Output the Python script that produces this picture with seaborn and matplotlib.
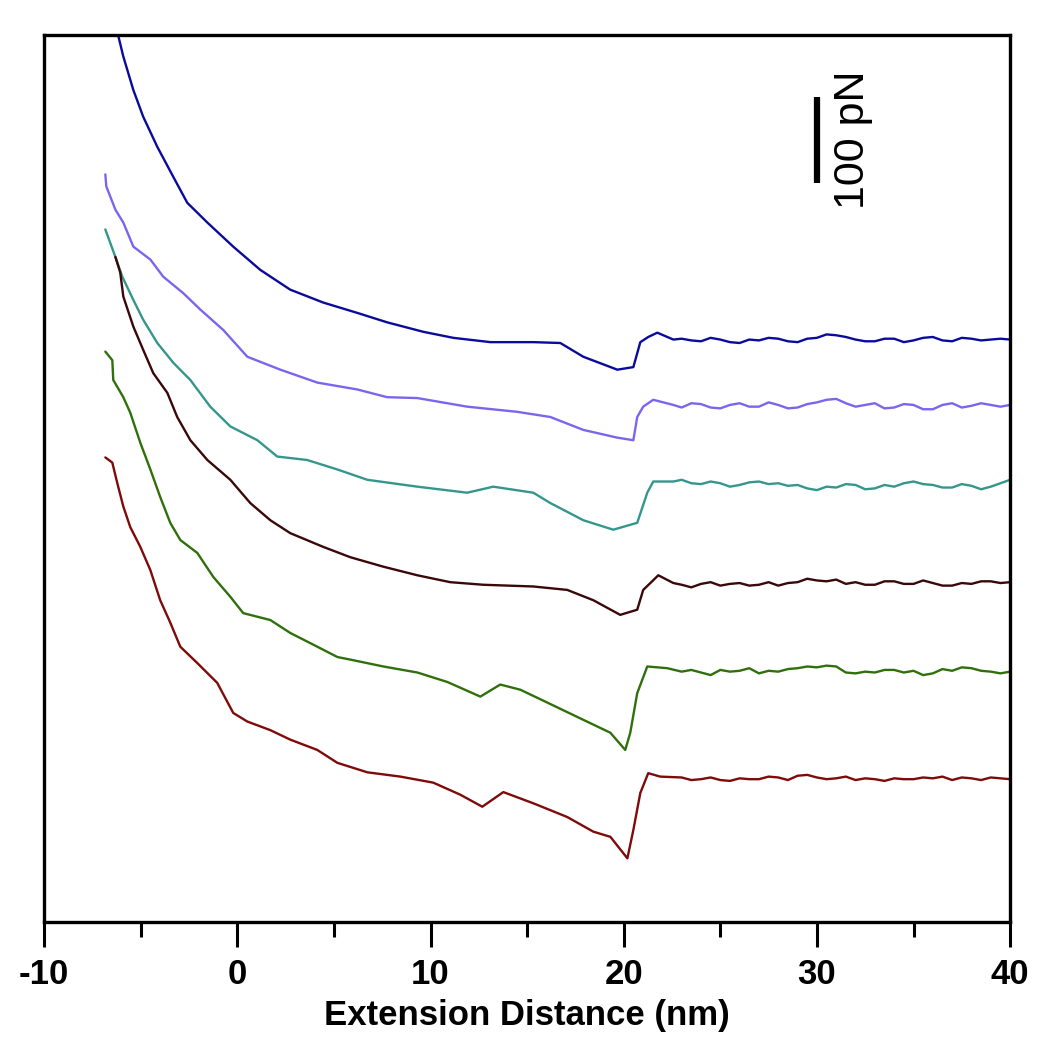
import matplotlib
matplotlib.use("Agg")
from matplotlib import pyplot as plt
from matplotlib.ticker import MultipleLocator
import pandas as pd
import seaborn as sns

# six force-extension traces, force in pN (offset for display)
# approach / rupture part of each trace
x_blue = [-6.16, -5.90, -5.38, -4.87, -4.14, -3.31, -2.59, -1.55, -0.21, 1.19, 2.74, 4.45, 6.21,
          7.76, 9.63, 11.18, 13.10, 15.32, 16.72, 17.91, 19.67, 20.50, 20.86, 21.27, 21.74, 22.57]
f_blue = [1030, 1006, 967, 936, 901, 866, 836, 813, 785, 758, 735, 720, 708,
          697, 686, 679, 674, 674, 673, 657, 642, 645, 674, 680, 685, 677]

x_purple = [-6.83, -6.78, -6.31, -5.90, -5.38, -4.50, -3.83, -2.80, -1.92, -0.72, 0.52, 2.23, 4.14,
            6.21, 7.76, 9.32, 11.90, 14.49, 16.20, 17.91, 19.67, 20.50, 20.70, 21.01, 21.53, 22.57]
f_purple = [869, 855, 828, 813, 785, 770, 750, 731, 712, 688, 657, 642, 627,
            619, 610, 609, 599, 593, 587, 572, 563, 560, 587, 599, 607, 601]

x_teal = [-6.83, -6.31, -5.95, -5.38, -4.87, -4.14, -3.31, -2.43, -1.40, -0.36, 1.04, 2.07, 3.62,
          5.18, 6.73, 9.32, 11.90, 13.25, 15.32, 16.20, 17.91, 19.46, 20.70, 21.22, 21.53, 22.57]
f_teal = [805, 773, 750, 723, 700, 673, 650, 630, 599, 576, 560, 541, 537,
          526, 514, 506, 499, 506, 499, 487, 467, 456, 464, 499, 512, 512]

x_brown = [-6.31, -6.06, -5.90, -5.38, -4.87, -4.35, -3.62, -3.11, -2.43, -1.55, -0.36, 0.67, 1.71,
           2.74, 4.45, 5.85, 7.56, 9.32, 11.02, 12.73, 15.32, 17.08, 18.43, 19.82, 20.70, 21.01,
           21.38, 21.79, 22.57]
f_brown = [773, 755, 727, 692, 665, 638, 615, 587, 560, 537, 514, 487, 467,
           452, 436, 424, 413, 403, 395, 392, 390, 386, 374, 357, 363, 386,
           394, 403, 394]

x_green = [-6.83, -6.47, -6.42, -5.90, -5.54, -5.02, -4.50, -3.99, -3.47, -2.95, -2.07, -1.24, -0.36,
           0.31, 1.71, 2.74, 4.14, 5.18, 5.85, 7.56, 9.32, 10.87, 12.58, 13.61, 14.65, 16.05,
           17.91, 19.31, 20.08, 20.34, 20.70, 21.22, 22.26]
f_green = [663, 653, 630, 610, 592, 557, 526, 494, 464, 444, 429, 401, 378,
           359, 351, 336, 320, 308, 305, 297, 290, 279, 262, 276, 270, 255,
           235, 220, 200, 220, 266, 297, 295]

x_red = [-6.83, -6.47, -6.21, -5.90, -5.54, -5.02, -4.50, -3.99, -3.47, -2.95, -2.07, -1.04, -0.21,
         0.52, 1.71, 2.74, 4.14, 5.18, 6.73, 8.44, 10.14, 11.54, 12.68, 13.77, 15.32, 17.08,
         18.43, 19.31, 20.19, 20.50, 20.86, 21.27, 21.89]
f_red = [540, 534, 510, 483, 459, 436, 409, 374, 348, 320, 301, 278, 243,
         233, 223, 212, 200, 185, 174, 169, 162, 148, 134, 151, 138, 122,
         105, 99, 74, 107, 150, 173, 169]

# baseline after rupture (shared x positions)
x_flat = [23, 23.5, 24, 24.5, 25, 25.5, 26, 26.5, 27, 27.5, 28, 28.5, 29, 29.5, 30, 30.5, 31, 31.5,
          32, 32.5, 33, 33.5, 34, 34.5, 35, 35.5, 36, 36.5, 37, 37.5, 38, 38.5, 39, 39.5, 40]
flat_blue = [678, 676, 675, 679, 677, 674, 673, 677, 676, 679, 678, 675, 674, 678, 679, 683, 682, 680,
             677, 675, 675, 678, 678, 674, 676, 679, 680, 676, 675, 679, 678, 676, 677, 678, 677]
flat_purple = [598, 603, 602, 598, 597, 601, 603, 599, 599, 604, 601, 597, 598, 602, 604, 607, 608, 603,
               599, 601, 603, 597, 598, 602, 601, 596, 596, 601, 603, 598, 600, 603, 601, 599, 601]
flat_teal = [514, 510, 509, 512, 510, 506, 508, 511, 512, 509, 510, 507, 508, 504, 502, 506, 505, 509,
             508, 503, 504, 508, 506, 510, 512, 509, 508, 505, 505, 509, 507, 503, 506, 510, 514]
flat_brown = [392, 389, 393, 395, 391, 393, 394, 391, 392, 395, 391, 394, 395, 399, 397, 396, 398, 393,
              395, 392, 392, 396, 396, 393, 393, 397, 394, 391, 391, 394, 393, 396, 396, 394, 395]
flat_green = [291, 293, 290, 287, 293, 291, 292, 295, 289, 292, 291, 294, 295, 297, 296, 298, 297, 290,
              289, 291, 290, 293, 293, 290, 292, 287, 289, 294, 292, 296, 295, 292, 291, 289, 291]
flat_red = [168, 165, 166, 168, 165, 164, 167, 166, 166, 169, 168, 165, 170, 171, 168, 166, 167, 169,
            165, 167, 166, 164, 167, 166, 166, 168, 167, 169, 165, 168, 167, 165, 168, 167, 166]

traces = ["t1", "t2", "t3", "t4", "t5", "t6"]
colors = ["#0a0a9c", "#7a66ee", "#35968c", "#3a0808", "#2f700c", "#7e0a0a"]
xs = [x_blue, x_purple, x_teal, x_brown, x_green, x_red]
fs = [f_blue, f_purple, f_teal, f_brown, f_green, f_red]
flats = [flat_blue, flat_purple, flat_teal, flat_brown, flat_green, flat_red]

scale_bar = 100  # pN
scale_x = 30.0
scale_y0 = 859

frames = []
for name, x, f, fl in zip(traces, xs, fs, flats):
    frames.append(pd.DataFrame({"x": x + x_flat, "force": f + fl, "trace": name}))
df = pd.concat(frames, ignore_index=True)

sns.set_theme(style="white")
plt.rcParams["font.family"] = ["Liberation Sans", "DejaVu Sans"]
plt.rcParams["axes.unicode_minus"] = False

fig = plt.figure(figsize=(10.5, 10.45), dpi=100)
ax = fig.add_axes([0.042, 0.1177, 0.92, 0.8488])

sns.lineplot(data=df, x="x", y="force", hue="trace", palette=colors, hue_order=traces,
             estimator=None, sort=False, legend=False, linewidth=1.7, ax=ax)

# scale bar
ax.plot([scale_x, scale_x], [scale_y0, scale_y0 + scale_bar], color="black", linewidth=4.5,
        solid_capstyle="butt")
ax.text(scale_x + 1.85, scale_y0 + scale_bar / 2, f"{scale_bar} pN", rotation=90,
        ha="center", va="center", fontsize=31, color="black")

ax.set_xlim(-10, 40)
ax.set_ylim(0, 1031)
ax.xaxis.set_major_locator(MultipleLocator(10))
ax.xaxis.set_minor_locator(MultipleLocator(5))
ax.tick_params(axis="x", which="major", direction="out", length=18, width=2.2,
               labelsize=25, pad=8, bottom=True, color="black", labelcolor="black")
ax.tick_params(axis="x", which="minor", direction="out", length=11, width=2.2,
               bottom=True, color="black")
ax.set_yticks([])
for lab in ax.get_xticklabels():
    lab.set_fontweight("bold")
ax.set_xlabel("Extension Distance (nm)", fontsize=25, fontweight="bold", labelpad=6,
              color="black")
ax.set_ylabel("")

for s in ax.spines.values():
    s.set_visible(True)
    s.set_linewidth(2.4)
    s.set_color("black")

fig.savefig("out.png", dpi=100, facecolor="white")
